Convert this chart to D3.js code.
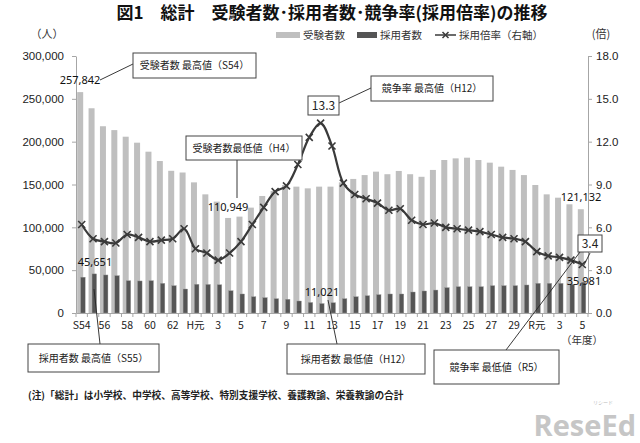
<!DOCTYPE html>
<html>
<head>
<meta charset="utf-8">
<script src="https://cdn.jsdelivr.net/npm/d3@7"></script>
<style>
  body { margin: 0; background: #fff; }
  text { font-family: "Noto Sans CJK JP", "Noto Sans", sans-serif; }
</style>
</head>
<body>
<script>
// fiscal years S54 .. R5
const years = ["S54","S55","S56","S57","S58","S59","S60","S61","S62","S63",
  "H1","H2","H3","H4","H5","H6","H7","H8","H9","H10",
  "H11","H12","H13","H14","H15","H16","H17","H18","H19","H20",
  "H21","H22","H23","H24","H25","H26","H27","H28","H29","H30",
  "R1","R2","R3","R4","R5"];

// labels shown under every second year
const tickLabels = ["S54","56","58","60","62","H元","3","5","7","9","11","13",
  "15","17","19","21","23","25","27","29","R元","3","5"];

// 受験者数
const applicants = [257842, 239000, 218000, 213500, 205800, 198800, 188300, 177400, 166000, 164000,
  152500, 138500, 130000, 110949, 112500, 123000, 136600, 142400, 149400, 147500,
  145500, 147500, 147500, 152500, 156500, 161000, 165000, 162000, 165800, 162000,
  159000, 167000, 178600, 180500, 181300, 178600, 175500, 170800, 167000, 161000,
  149400, 138500, 134600, 126900, 121132];

// 採用者数
const hired = [41800, 45651, 44400, 43600, 37700, 37400, 37700, 34600, 31900, 28000,
  33500, 33300, 33000, 26000, 22200, 19000, 17900, 16700, 16000, 14000,
  12300, 11021, 12000, 16700, 19000, 20200, 21400, 22200, 22200, 24500,
  25700, 26800, 29600, 30700, 30700, 30700, 31900, 31900, 31900, 32700,
  34600, 34600, 34600, 33500, 35981];

// 採用倍率 (right axis)
const rate = [6.2, 5.2, 5.0, 4.9, 5.5, 5.3, 5.0, 5.1, 5.2, 5.9,
  4.5, 4.2, 3.7, 4.2, 5.0, 6.2, 7.4, 8.5, 8.9, 10.4,
  12.3, 13.3, 11.7, 9.1, 8.3, 8.0, 7.7, 7.2, 7.3, 6.5,
  6.2, 6.3, 6.0, 5.9, 5.8, 5.7, 5.5, 5.3, 5.2, 5.0,
  4.3, 4.0, 3.9, 3.7, 3.4];

const leftTicks = [0, 50000, 100000, 150000, 200000, 250000, 300000];
const rightTicks = [0, 3, 6, 9, 12, 15, 18];

const width = 640, height = 443;
const plot = {left: 76, right: 588, top: 56, bottom: 313};

const svg = d3.select("body").append("svg")
  .attr("width", width)
  .attr("height", height);

const x = d3.scaleBand().domain(years).range([plot.left, plot.right]);
const y = d3.scaleLinear().domain([0, 300000]).range([plot.bottom, plot.top]);
const y2 = d3.scaleLinear().domain([0, 18]).range([plot.bottom, plot.top]);
const cx = d => x(d) + x.bandwidth() / 2;

// title
svg.append("text")
  .attr("x", 332).attr("y", 19)
  .attr("text-anchor", "middle")
  .style("font-size", "17px").style("font-weight", "bold")
  .attr("fill", "#111")
  .text("図1　総計　受験者数･採用者数･競争率(採用倍率)の推移");

// unit labels
svg.append("text").attr("x", 47).attr("y", 38).attr("text-anchor", "middle")
  .style("font-size", "11px").attr("fill", "#333").text("（人）");
svg.append("text").attr("x", 601).attr("y", 38).attr("text-anchor", "middle")
  .style("font-size", "11px").attr("fill", "#333").text("(倍)");

// legend
const lg = svg.append("g").style("font-size", "10.5px").attr("fill", "#333");
lg.append("rect").attr("x", 276).attr("y", 32).attr("width", 24).attr("height", 6).attr("fill", "#bfbfbf");
lg.append("text").attr("x", 303).attr("y", 39).text("受験者数");
lg.append("rect").attr("x", 357).attr("y", 32).attr("width", 20).attr("height", 6).attr("fill", "#555");
lg.append("text").attr("x", 380).attr("y", 39).text("採用者数");
lg.append("line").attr("x1", 435).attr("x2", 456).attr("y1", 35).attr("y2", 35)
  .attr("stroke", "#3a3a3a").attr("stroke-width", 1.5);
lg.append("path").attr("transform", "translate(445.5,35)")
  .attr("d", "M-3,-3L3,3M-3,3L3,-3").attr("stroke", "#3a3a3a").attr("stroke-width", 1.5);
lg.append("text").attr("x", 459).attr("y", 39).text("採用倍率（右軸）");

// bars
svg.append("g").selectAll("rect")
  .data(years)
  .join("rect")
    .attr("x", d => cx(d) - 4.5)
    .attr("width", 6)
    .attr("y", (d, i) => y(applicants[i]))
    .attr("height", (d, i) => y(0) - y(applicants[i]))
    .attr("fill", "#bfbfbf");

svg.append("g").selectAll("rect")
  .data(years)
  .join("rect")
    .attr("x", d => cx(d) - 1)
    .attr("width", 4.5)
    .attr("y", (d, i) => y(hired[i]))
    .attr("height", (d, i) => y(0) - y(hired[i]))
    .attr("fill", "#555")
    .attr("stroke", "#9a9a9a").attr("stroke-width", 0.4);

// axes
const axisColor = "#a6a6a6";
const leftAxis = svg.append("g")
  .attr("transform", `translate(${plot.left},0)`)
  .call(d3.axisLeft(y).tickValues(leftTicks).tickSize(4).tickSizeOuter(0).tickPadding(8)
    .tickFormat(d3.format(",")));
const rightAxis = svg.append("g")
  .attr("transform", `translate(${plot.right},0)`)
  .call(d3.axisRight(y2).tickValues(rightTicks).tickSize(4).tickSizeOuter(0).tickPadding(4)
    .tickFormat(d3.format(".1f")));
const bottomAxis = svg.append("g")
  .attr("transform", `translate(0,${plot.bottom})`)
  .call(d3.axisBottom(x).tickValues(years.filter((d, i) => i % 2 === 0))
    .tickSize(0).tickSizeOuter(0).tickPadding(9)
    .tickFormat(d => tickLabels[years.indexOf(d) / 2]));

[leftAxis, rightAxis, bottomAxis].forEach(g => {
  g.select(".domain").attr("stroke", axisColor);
  g.selectAll(".tick line").attr("stroke", axisColor);
  g.selectAll("text").attr("fill", "#222")
    .style("font-family", "'Liberation Sans Narrow', 'Liberation Sans', sans-serif")
    .style("font-size", "11.5px");
});
bottomAxis.selectAll("text").style("font-family", "'Noto Sans CJK JP', sans-serif").style("font-size", "10.5px");

// category boundary ticks on x axis
const bounds = years.map(d => x(d)).concat([x.range()[1]]);
svg.append("g").selectAll("line")
  .data(bounds)
  .join("line")
    .attr("x1", d => d).attr("x2", d => d)
    .attr("y1", plot.bottom).attr("y2", plot.bottom + 4)
    .attr("stroke", axisColor);

// rate line
const line = d3.line()
  .x((d, i) => cx(years[i]))
  .y(d => y2(d))
  .curve(d3.curveCatmullRom);
svg.append("path")
  .datum(rate)
  .attr("d", line)
  .attr("fill", "none")
  .attr("stroke", "#3a3a3a")
  .attr("stroke-width", 2.2);

svg.append("g").selectAll("path")
  .data(rate)
  .join("path")
    .attr("transform", (d, i) => `translate(${cx(years[i])},${y2(d)})`)
    .attr("d", "M-3.5,-3.5L3.5,3.5M-3.5,3.5L3.5,-3.5")
    .attr("stroke", "#3a3a3a")
    .attr("stroke-width", 1.6);

// annotations
const ann = svg.append("g");
function box(x0, y0, w, h, label, size) {
  ann.append("rect").attr("x", x0).attr("y", y0).attr("width", w).attr("height", h)
    .attr("fill", "#fff").attr("stroke", "#444").attr("stroke-width", 1);
  ann.append("text").attr("x", x0 + w / 2).attr("y", y0 + h / 2)
    .attr("dy", "0.36em").attr("text-anchor", "middle")
    .style("font-size", (size || 10) + "px").attr("fill", "#222").text(label);
}
function lead(x1, y1, x2, y2) {
  ann.append("line").attr("x1", x1).attr("y1", y1).attr("x2", x2).attr("y2", y2)
    .attr("stroke", "#222").attr("stroke-width", 0.9);
}
function valueLabel(xc, yc, label) {
  ann.append("text").attr("x", xc).attr("y", yc).attr("dy", "0.36em")
    .attr("text-anchor", "middle")
    .style("font-family", "'Noto Sans', sans-serif")
    .style("font-size", "11px").attr("fill", "#111").text(label);
}

const fmt = d3.format(",");
const iMaxA = years.indexOf("S54"), iMinA = years.indexOf("H4");
const iMaxH = years.indexOf("S55"), iMinH = years.indexOf("H12");
const iLast = years.length - 1;

lead(100, 80, 133, 64);
box(133, 53, 123, 25, "受験者数 最高値（S54）");
valueLabel(80, 80, fmt(applicants[iMaxA]));

lead(237, 160, 237, 198);
box(186, 136, 116, 24, "受験者数最低値（H4）");
valueLabel(228, 207, fmt(applicants[iMinA]));

lead(339, 103, 371, 88);
box(371, 76, 122, 25, "競争率 最高値（H12）");
box(308, 96, 31, 19, d3.format(".1f")(rate[iMinH]), 12);

valueLabel(581, 197, fmt(applicants[iLast]));
valueLabel(584, 281, fmt(hired[iLast]));
valueLabel(95, 262, fmt(hired[iMaxH]));
valueLabel(322, 292, fmt(hired[iMinH]));

lead(94, 289, 100, 344);
box(28, 344, 131, 28, "採用者数 最高値（S55）");
lead(328, 300, 337, 344);
box(287, 344, 138, 30, "採用者数 最低値（H12）");

lead(506, 350, 580, 252);
lead(590, 253, 584, 265);
box(578, 235, 24, 17, d3.format(".1f")(rate[iLast]), 12);
box(434, 350, 125, 34, "競争率 最低値（R5）");

svg.append("text").attr("x", 582).attr("y", 344).attr("text-anchor", "middle")
  .style("font-size", "10.5px").attr("fill", "#333").text("（年度）");

// note
svg.append("text").attr("x", 28).attr("y", 399)
  .style("font-size", "9.7px").style("font-weight", "bold").attr("fill", "#222")
  .text("(注)「総計」は小学校、中学校、高等学校、特別支援学校、養護教諭、栄養教諭の合計");

// watermark
svg.append("text").attr("x", 603).attr("y", 404).attr("text-anchor", "middle")
  .style("font-size", "5px").attr("fill", "#bbb").text("リシード");
svg.append("text").attr("x", 636).attr("y", 436).attr("text-anchor", "end")
  .style("font-family", "'Open Sans', sans-serif")
  .style("font-size", "29px").style("font-weight", "bold")
  .attr("fill", "#c6c6c6").text("ReseEd");
</script>
</body>
</html>
